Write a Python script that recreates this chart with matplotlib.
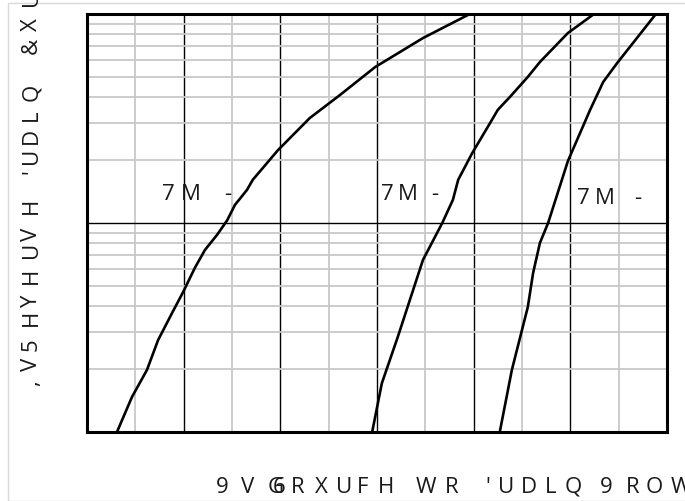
import matplotlib
matplotlib.use("Agg")
import matplotlib.pyplot as plt
from matplotlib.ticker import MultipleLocator, LogLocator, NullFormatter
from matplotlib.patches import Rectangle

# ---- data ----
c1_x = [0.062, 0.093, 0.124, 0.147, 0.176, 0.199, 0.223, 0.244, 0.269, 0.290, 0.306, 0.331,
        0.343, 0.395, 0.461, 0.523, 0.596, 0.695, 0.792]
c1_y = [0.100, 0.147, 0.198, 0.275, 0.371, 0.468, 0.609, 0.743, 0.877, 1.03, 1.22, 1.44,
        1.61, 2.23, 3.18, 4.09, 5.57, 7.67, 10.0]
c2_x = [0.590, 0.610, 0.643, 0.695, 0.735, 0.757, 0.768, 0.797, 0.834, 0.850, 0.875, 0.912,
        0.937, 0.995, 1.049]
c2_y = [0.100, 0.171, 0.285, 0.665, 1.00, 1.29, 1.61, 2.16, 3.01, 3.48, 4.01, 5.00,
        5.89, 8.11, 10.0]
c3_x = [0.854, 0.879, 0.912, 0.923, 0.937, 0.954, 0.995, 1.041, 1.068, 1.097, 1.177]
c3_y = [0.100, 0.198, 0.396, 0.577, 0.802, 1.00, 1.98, 3.48, 4.73, 5.83, 10.0]

x_min, x_max = 0.0, 1.2
y_min, y_max = 0.1, 10.0

xlabel_chars = ["9", "V", "G", "6", "R", "X", "U", "F", "H", "W", "R", "'", "U", "D", "L", "Q", "9", "R", "O", "W"]
ylabel_chars = [",", "V", "5", "H", "Y", "H", "U", "V", "H", "'", "U", "D", "L", "Q", "&", "X", "U"]
annot_chars = ["7", "M", "-"]

FONT = "Open Sans"
W, H = 685, 501
fig = plt.figure(figsize=(W / 100, H / 100), dpi=100)
fig.patch.set_facecolor("white")

# outer light frame
fig.patches.append(Rectangle((8 / W, 0), 1.0, 1 - 3 / H, transform=fig.transFigure,
                             fill=False, edgecolor="#d9d9d9", linewidth=1.0))

L, R_, T, B = 87, 667, 14, 432
ax = fig.add_axes([L / W, 1 - B / H, (R_ - L) / W, (B - T) / H])
ax.set_xlim(x_min, x_max)
ax.set_yscale("log")
ax.set_ylim(y_min, y_max)

ax.xaxis.set_major_locator(MultipleLocator(0.2))
ax.xaxis.set_minor_locator(MultipleLocator(0.1))
ax.yaxis.set_major_locator(LogLocator(base=10, numticks=10))
ax.yaxis.set_minor_locator(LogLocator(base=10, subs=range(2, 10), numticks=20))
ax.xaxis.set_major_formatter(NullFormatter())
ax.xaxis.set_minor_formatter(NullFormatter())
ax.yaxis.set_major_formatter(NullFormatter())
ax.yaxis.set_minor_formatter(NullFormatter())
ax.tick_params(which="both", length=0)

ax.grid(which="minor", color="#c8c8c8", linewidth=1.3)
ax.grid(which="major", color="black", linewidth=1.0)
ax.set_axisbelow(True)

for s in ax.spines.values():
    s.set_linewidth(2.2)
    s.set_color("black")

for xs, ys in [(c1_x, c1_y), (c2_x, c2_y), (c3_x, c3_y)]:
    ax.plot(xs, ys, color="black", linewidth=1.9, solid_joinstyle="round")

def px(x, y):
    return x / W, 1 - y / H

# annotations
annot_pos = [
    [(162, 200), (181, 200), (224, 200)],
    [(381, 200), (398, 200), (431, 200)],
    [(577, 204), (595, 204), (634, 204)],
]
for group in annot_pos:
    for ch, (x, y) in zip(annot_chars, group):
        fig.text(*px(x, y), ch, fontsize=16, family=FONT, color="#1a1a1a",
                 ha="left", va="baseline")

# x label (letter-spaced)
xlabel_x = [216, 241, 268, 273, 291, 315, 336, 357, 378, 416, 445, 485, 498, 521, 545, 565, 600, 626, 646, 671]
for ch, x in zip(xlabel_chars, xlabel_x):
    fig.text(*px(x, 493), ch, fontsize=16, family=FONT, color="#1a1a1a",
             ha="left", va="baseline")

# y label (letter-spaced, rotated)
ylabel_y = [386, 371, 351, 326, 308, 284, 258, 241, 214, 174, 164, 144, 121, 101, 54, 31, 6]
for ch, y in zip(ylabel_chars, ylabel_y):
    fig.text(*px(37, y), ch, fontsize=16, family=FONT, color="#1a1a1a",
             ha="left", va="baseline", rotation=90, rotation_mode="anchor")

fig.savefig("out.png", dpi=100)
